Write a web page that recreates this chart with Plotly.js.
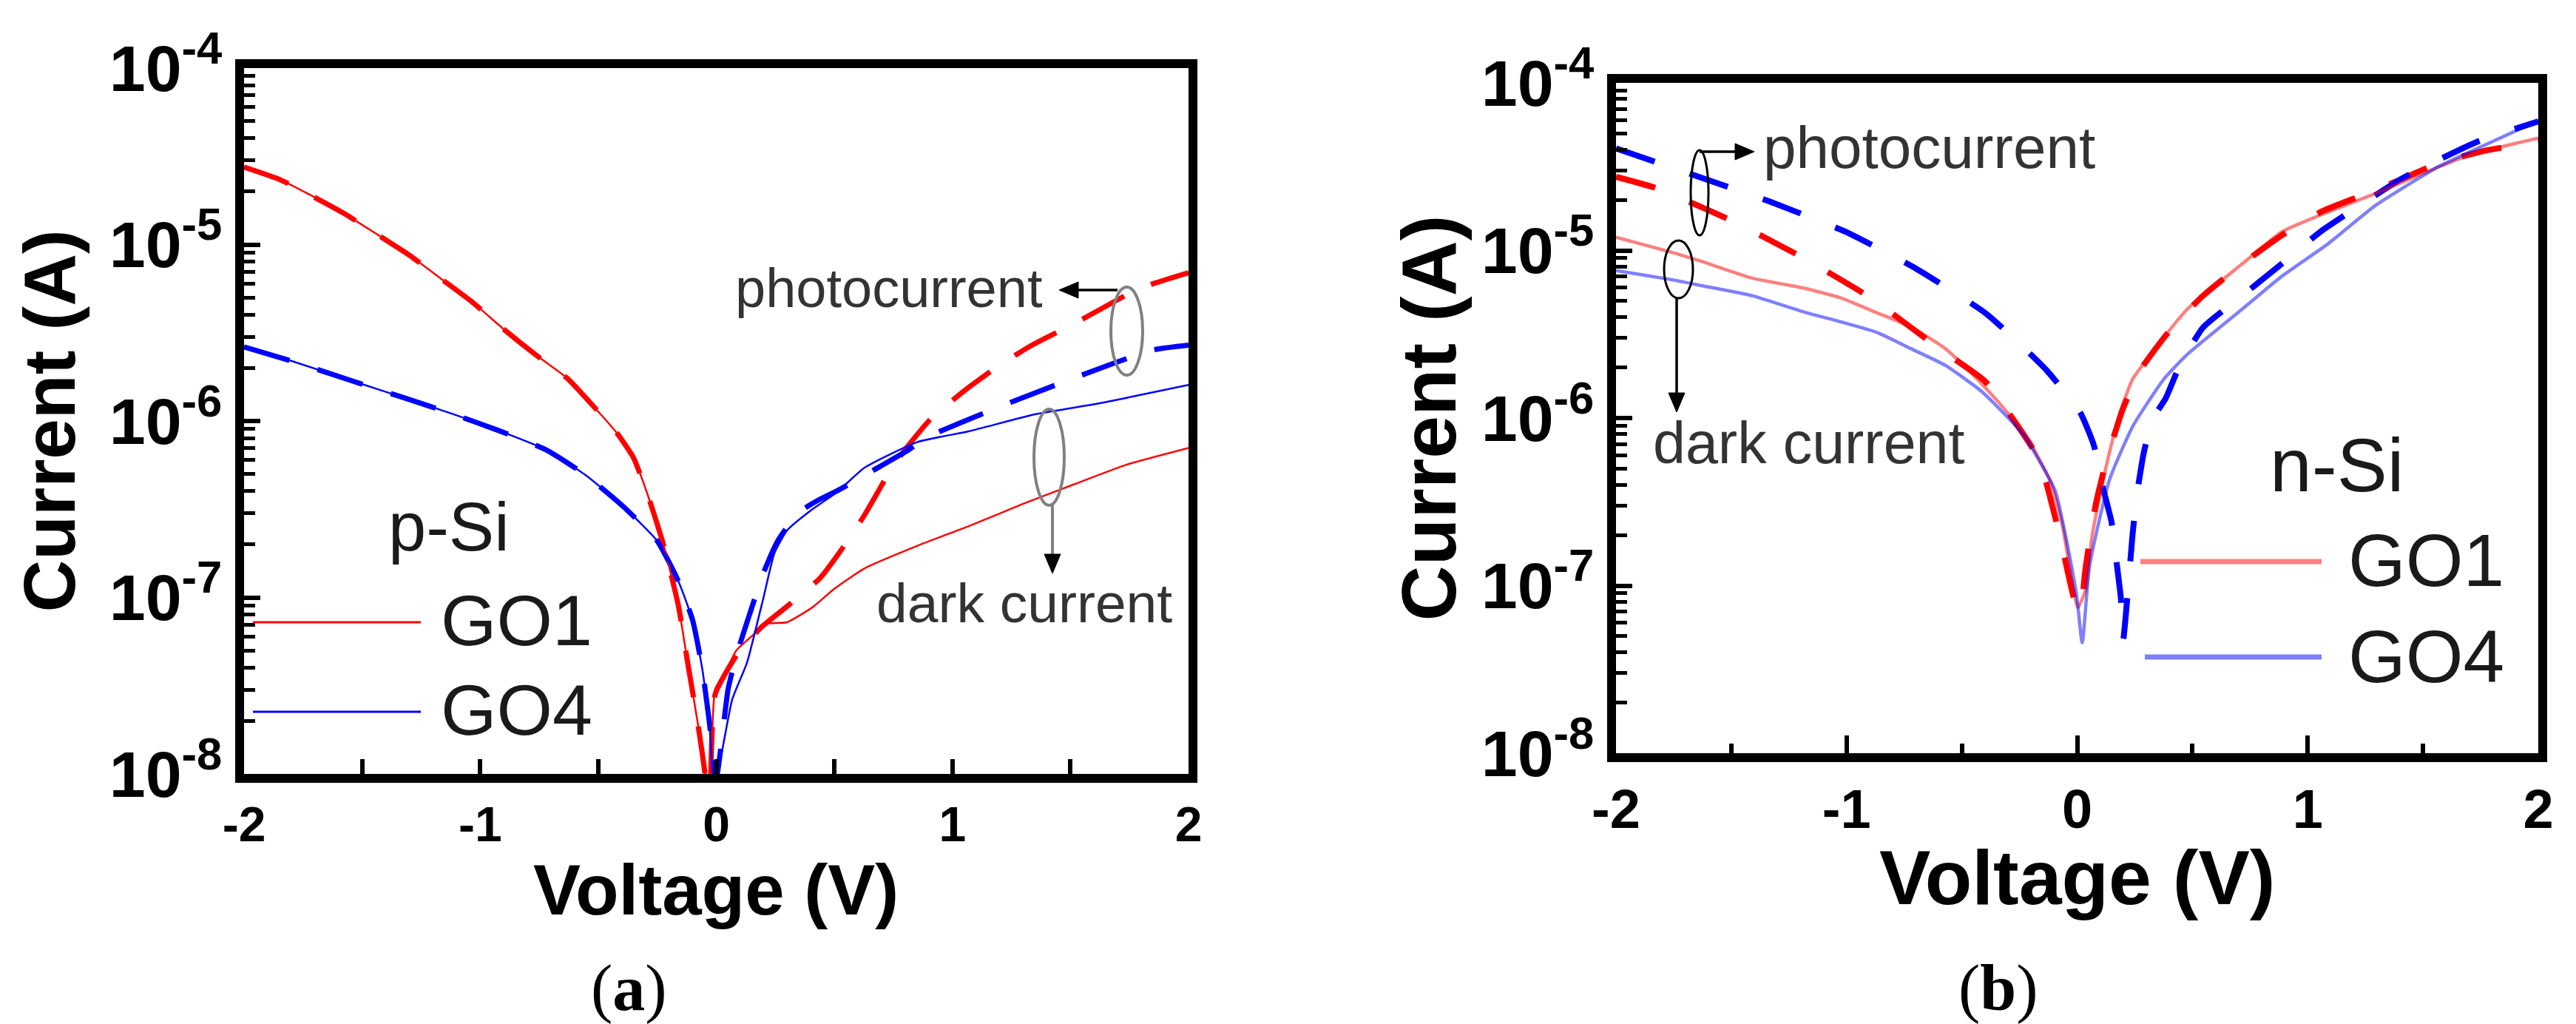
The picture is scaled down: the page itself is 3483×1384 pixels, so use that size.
<!DOCTYPE html>
<html><head><meta charset="utf-8">
<script src="https://cdn.plot.ly/plotly-3.0.1.min.js"></script>
<style>html,body{margin:0;padding:0;background:#fff;}#chart{width:3483px;height:1384px;}</style>
</head><body><div id="chart"></div>
<script>
// ---------- Panel (a): p-Si ----------
const a_go1_dark_V = [-2.0,-1.85,-1.72,-1.58,-1.44,-1.3,-1.17,-1.03,-0.9,-0.77,-0.63,-0.51,-0.42,-0.35,-0.29,-0.22,-0.16,-0.12,-0.08,-0.05,-0.03,-0.005,0.04,0.085,0.15,0.21,0.30,0.407,0.5,0.627,0.85,1.071,1.294,1.514,1.737,2.0];
const a_go1_dark_I = [2.75e-5,2.34e-5,1.91e-5,1.51e-5,1.15e-5,8.71e-6,6.46e-6,4.68e-6,3.31e-6,2.40e-6,1.74e-6,1.17e-6,8.51e-7,6.17e-7,3.80e-7,1.91e-7,8.91e-8,4.17e-8,2.00e-8,1.05e-8,5.0e-9,3.02e-8,3.80e-8,5.01e-8,6.03e-8,7.08e-8,7.24e-8,8.79e-8,1.12e-7,1.46e-7,1.96e-7,2.54e-7,3.37e-7,4.37e-7,5.65e-7,7.03e-7];

const a_go1_photo_V = [-2.0,-1.85,-1.72,-1.58,-1.44,-1.3,-1.17,-1.03,-0.9,-0.77,-0.63,-0.51,-0.42,-0.35,-0.29,-0.22,-0.16,-0.12,-0.08,-0.05,-0.03,-0.005,0.085,0.19,0.3,0.44,0.54,0.627,0.717,0.795,0.906,1.049,1.204,1.337,1.514,1.634,1.789,2.0];
const a_go1_photo_I = [2.75e-5,2.34e-5,1.91e-5,1.51e-5,1.15e-5,8.71e-6,6.46e-6,4.68e-6,3.31e-6,2.40e-6,1.74e-6,1.17e-6,8.51e-7,6.17e-7,3.80e-7,1.91e-7,8.91e-8,4.17e-8,2.00e-8,1.05e-8,5.0e-9,2.82e-8,4.68e-8,6.76e-8,8.91e-8,1.29e-7,1.95e-7,2.92e-7,4.71e-7,6.76e-7,1.02e-6,1.48e-6,2.09e-6,2.69e-6,3.55e-6,4.35e-6,5.62e-6,6.92e-6];

const a_go4_dark_V = [-2.0,-1.8,-1.55,-1.32,-1.12,-0.92,-0.72,-0.55,-0.39,-0.25,-0.16,-0.1,-0.06,-0.03,-0.01,0.02,0.067,0.13,0.2,0.246,0.3,0.407,0.514,0.627,0.85,1.071,1.349,1.625,1.845,2.0];
const a_go4_dark_I = [2.63e-6,2.19e-6,1.70e-6,1.35e-6,1.10e-6,8.81e-7,6.86e-7,4.90e-7,3.24e-7,2.09e-7,1.23e-7,7.41e-8,3.98e-8,2.00e-8,8.91e-9,1.26e-8,2.63e-8,4.27e-8,1.00e-7,1.78e-7,2.40e-7,3.16e-7,3.98e-7,5.43e-7,7.59e-7,8.75e-7,1.09e-6,1.26e-6,1.45e-6,1.60e-6];

const a_go4_photo_V = [-2.0,-1.8,-1.55,-1.32,-1.12,-0.92,-0.72,-0.55,-0.39,-0.25,-0.16,-0.1,-0.06,-0.03,0.0,0.05,0.085,0.157,0.2,0.26,0.347,0.43,0.519,0.661,0.807,0.894,1.204,1.514,1.845,2.0];
const a_go4_photo_I = [2.63e-6,2.19e-6,1.70e-6,1.35e-6,1.10e-6,8.81e-7,6.86e-7,4.90e-7,3.24e-7,2.09e-7,1.23e-7,7.41e-8,3.98e-8,2.00e-8,9.5e-9,3.02e-8,4.68e-8,9.33e-8,1.38e-7,2.09e-7,3.02e-7,3.55e-7,4.07e-7,5.22e-7,6.76e-7,8.11e-7,1.21e-6,1.75e-6,2.52e-6,2.69e-6];

// ---------- Panel (b): n-Si ----------
const b_go1_dark_V = [-2.0,-1.76,-1.63,-1.41,-1.18,-1.025,-0.873,-0.72,-0.571,-0.448,-0.343,-0.283,-0.197,-0.114,-0.063,-0.022,0.003,0.038,0.063,0.105,0.15,0.19,0.24,0.308,0.478,0.716,0.887,1.09,1.295,1.499,1.703,2.0];
const b_go1_dark_I = [1.20e-5,9.77e-6,8.61e-6,6.84e-6,5.94e-6,5.21e-6,4.27e-6,3.49e-6,2.59e-6,1.79e-6,1.25e-6,1.00e-6,6.84e-7,4.14e-7,2.25e-7,1.05e-7,7.41e-8,9.55e-8,1.91e-7,3.80e-7,7.08e-7,1.12e-6,1.70e-6,2.29e-6,4.47e-6,8.32e-6,1.29e-5,1.70e-5,2.19e-5,2.88e-5,3.72e-5,4.68e-5];

const b_go1_photo_V = [-2.0,-1.82,-1.505,-1.2,-0.895,-0.61,-0.40,-0.298,-0.165,-0.073,-0.013,0.013,0.038,0.08,0.124,0.197,0.273,0.412,0.546,0.716,0.887,1.057,1.227,1.397,1.567,1.77,2.0];
const b_go1_photo_I = [2.75e-5,2.34e-5,1.52e-5,9.23e-6,5.21e-6,2.67e-6,1.66e-6,1.08e-6,5.65e-7,1.92e-7,8.32e-8,7.08e-8,1.32e-7,3.02e-7,5.37e-7,1.12e-6,1.92e-6,3.47e-6,5.37e-6,8.32e-6,1.23e-5,1.70e-5,2.11e-5,2.63e-5,3.31e-5,3.94e-5,4.47e-5];

const b_go4_dark_V = [-2.0,-1.76,-1.63,-1.41,-1.18,-1.025,-0.873,-0.72,-0.571,-0.419,-0.333,-0.232,-0.095,-0.048,-0.003,0.022,0.054,0.14,0.241,0.375,0.478,0.716,0.887,1.09,1.295,1.567,1.77,2.0];
const b_go4_dark_I = [7.59e-6,6.70e-6,6.17e-6,5.37e-6,4.27e-6,3.75e-6,3.26e-6,2.59e-6,2.06e-6,1.46e-6,1.12e-6,7.94e-7,3.67e-7,1.92e-7,8.91e-8,4.57e-8,1.32e-7,4.27e-7,8.91e-7,1.70e-6,2.40e-6,4.47e-6,7.00e-6,1.10e-5,1.86e-5,3.16e-5,4.27e-5,5.96e-5];

const b_go4_photo_V = [-2.0,-1.648,-1.33,-1.003,-0.698,-0.394,-0.136,0.013,0.073,0.105,0.149,0.17,0.19,0.2,0.225,0.24,0.26,0.29,0.33,0.384,0.444,0.546,0.716,0.887,1.057,1.227,1.397,1.567,1.738,2.0];
const b_go4_photo_I = [4.07e-5,2.77e-5,1.95e-5,1.29e-5,7.78e-6,4.19e-6,1.95e-6,1.08e-6,6.84e-7,4.17e-7,2.40e-7,1.41e-7,8.32e-8,4.79e-8,1.12e-7,2.00e-7,3.55e-7,6.31e-7,1.00e-6,1.31e-6,2.04e-6,3.47e-6,5.37e-6,8.32e-6,1.30e-5,1.86e-5,2.63e-5,3.47e-5,4.47e-5,5.89e-5];

// ---------- Tick labels and texts ----------
const xTickVals = [-2, -1, 0, 1, 2];
const xTickText = ['-2', '-1', '0', '1', '2'];
const yTickVals = [1e-8, 1e-7, 1e-6, 1e-5, 1e-4];
const yTickText = ['10<sup>-8</sup>', '10<sup>-7</sup>', '10<sup>-6</sup>', '10<sup>-5</sup>', '10<sup>-4</sup>'];
const seriesNames = ['GO1', 'GO4'];
const xTitle = 'Voltage (V)';
const yTitle = 'Current (A)';

// ---------- Layout helpers ----------
const W = 3483, H = 1384;
const FONT = 'Liberation Sans, Arial, Helvetica, sans-serif';
const px = v => v / W;
const py = v => 1 - v / H;
const yMinor = [];
for (let k = -8; k < -4; k++) for (let d = 2; d <= 9; d++) yMinor.push(d * Math.pow(10, k));

function xAxis(domain, anchor, tickSize, majLen, minLen) {
  return {
    domain: domain, anchor: anchor, range: [-2, 2], showgrid: false, zeroline: false,
    showline: true, linewidth: 12, linecolor: '#000', mirror: true,
    ticks: 'inside', ticklen: majLen, tickwidth: 6, tickcolor: '#000',
    tickmode: 'array', tickvals: xTickVals, ticktext: xTickText,
    minor: {tickmode: 'linear', tick0: -1.5, dtick: 1, ticks: 'inside', ticklen: minLen, tickwidth: 6, tickcolor: '#000', showgrid: false},
    tickfont: {family: FONT, size: tickSize, color: '#000', weight: 700}
  };
}
function yAxis(domain, anchor, titleSize, standoff) {
  return {
    domain: domain, anchor: anchor, type: 'log', range: [-8, -4], showgrid: false, zeroline: false,
    showline: true, linewidth: 12, linecolor: '#000', mirror: true,
    ticks: 'inside', ticklen: 22, tickwidth: 6, tickcolor: '#000',
    tickmode: 'array', tickvals: yTickVals, ticktext: yTickText,
    minor: {tickmode: 'array', tickvals: yMinor, ticks: 'inside', ticklen: 15, tickwidth: 5, tickcolor: '#000', showgrid: false},
    tickfont: {family: FONT, size: 88, color: '#000', weight: 700},
    title: {text: yTitle, font: {family: FONT, size: titleSize, color: '#000', weight: 700}, standoff: standoff}
  };
}

const RED = '#ff0000', BLUE = '#0000ff';
const RED_L = 'rgba(255,0,0,0.5)', BLUE_L = 'rgba(0,0,255,0.5)';
function tr(x, y, xa, ya, color, width, dash, name) {
  return {x: x, y: y, xaxis: xa, yaxis: ya, type: 'scatter', mode: 'lines', name: name, showlegend: false,
    line: {color: color, width: width, dash: dash, shape: 'spline', smoothing: 0.5}, hoverinfo: 'skip'};
}

const data = [
  tr(a_go1_photo_V, a_go1_photo_I, 'x', 'y', RED, 7, '64px,40px', seriesNames[0] + ' photocurrent'),
  tr(a_go4_photo_V, a_go4_photo_I, 'x', 'y', BLUE, 7, '64px,40px', seriesNames[1] + ' photocurrent'),
  tr(a_go1_dark_V, a_go1_dark_I, 'x', 'y', RED, 2.5, 'solid', seriesNames[0] + ' dark current'),
  tr(a_go4_dark_V, a_go4_dark_I, 'x', 'y', BLUE, 2.5, 'solid', seriesNames[1] + ' dark current'),
  tr(b_go1_photo_V, b_go1_photo_I, 'x2', 'y2', RED, 8, '55px,50px', seriesNames[0] + ' photocurrent'),
  tr(b_go4_photo_V, b_go4_photo_I, 'x2', 'y2', BLUE, 8, '55px,50px', seriesNames[1] + ' photocurrent'),
  tr(b_go1_dark_V, b_go1_dark_I, 'x2', 'y2', RED_L, 4.5, 'solid', seriesNames[0] + ' dark current'),
  tr(b_go4_dark_V, b_go4_dark_I, 'x2', 'y2', BLUE_L, 4.5, 'solid', seriesNames[1] + ' dark current')
];

function txt(text, x, y, size, color, xanchor, family, weight) {
  return {text: text, xref: 'paper', yref: 'paper', x: px(x), y: py(y), xanchor: xanchor || 'center', yanchor: 'middle',
    showarrow: false, font: {family: family || FONT, size: size, color: color || '#1a1a1a', weight: weight || 400}};
}
function ellipse(x0, x1, y0, y1, color, w) {
  return {type: 'circle', xref: 'paper', yref: 'paper', x0: px(x0), x1: px(x1), y0: py(y1), y1: py(y0),
    line: {color: color, width: w}, fillcolor: 'rgba(0,0,0,0)'};
}
function seg(x0, y0, x1, y1, color, w) {
  return {type: 'line', xref: 'paper', yref: 'paper', x0: px(x0), x1: px(x1), y0: py(y0), y1: py(y1), line: {color: color, width: w}};
}
function head(tipX, tipY, dir, color) {
  // small filled triangle arrowhead, dir: 'left' | 'right' | 'down'
  const L = 26, Hw = 11;
  let p;
  if (dir === 'left') p = [[tipX, tipY], [tipX + L, tipY - Hw], [tipX + L, tipY + Hw]];
  else if (dir === 'right') p = [[tipX, tipY], [tipX - L, tipY - Hw], [tipX - L, tipY + Hw]];
  else p = [[tipX, tipY], [tipX - Hw, tipY - L], [tipX + Hw, tipY - L]];
  const path = 'M' + p.map(q => px(q[0]) + ',' + py(q[1])).join(' L') + ' Z';
  return {type: 'path', xref: 'paper', yref: 'paper', path: path, fillcolor: color, line: {color: color, width: 1}};
}

const layout = {
  width: W, height: H, paper_bgcolor: '#fff', plot_bgcolor: '#fff',
  margin: {l: 0, r: 0, t: 0, b: 0, pad: 0, autoexpand: false},
  showlegend: false,
  xaxis: xAxis([px(330), px(1607)], 'y', 66, 20, 20),
  yaxis: yAxis([py(1046), py(92)], 'x', 98, 18),
  xaxis2: xAxis([px(2185), px(3432)], 'y2', 74, 24, 13),
  yaxis2: yAxis([py(1018), py(112)], 'x2', 104, 4),
  shapes: [
    // panel (a) markers
    ellipse(1502, 1545, 388, 507, '#808080', 4),
    ellipse(1398, 1439, 553, 683, '#808080', 4),
    seg(1511, 392, 1450, 392, '#000', 3.5),
    head(1432, 392, 'left', '#000'),
    seg(1423, 683, 1423, 752, '#808080', 4),
    head(1423, 775, 'down', '#000'),
    seg(342, 841, 569, 841, RED, 3),
    seg(342, 962, 569, 962, BLUE, 3),
    // panel (b) markers
    ellipse(2286, 2310, 203, 318, '#000', 3),
    ellipse(2250, 2289, 325, 403, '#000', 3),
    seg(2298, 205, 2352, 205, '#000', 3.5),
    head(2372, 205, 'right', '#000'),
    seg(2267, 403, 2267, 535, '#000', 3.5),
    head(2267, 557, 'down', '#000'),
    seg(2894, 759, 3139, 759, RED_L, 7),
    seg(2900, 888, 3139, 888, BLUE_L, 7)
  ],
  annotations: [
    txt(xTitle, 968, 1202, 96, '#000', 'center', FONT, 700),
    txt(xTitle, 2808, 1186, 104, '#000', 'center', FONT, 700),
    txt('photocurrent', 1202, 390, 74, '#333'),
    txt('dark current', 1385, 815, 75, '#333'),
    txt('p-Si', 523, 712, 92, '#1a1a1a', 'left'),
    txt(seriesNames[0], 594, 838, 97, '#1a1a1a', 'left'),
    txt(seriesNames[1], 594, 959, 97, '#1a1a1a', 'left'),
    txt('photocurrent', 2608, 199, 80, '#333'),
    txt('dark current', 2446, 598, 79, '#333'),
    txt('n-Si', 3067, 629, 102, '#1a1a1a', 'left'),
    txt(seriesNames[0], 3173, 757, 100, '#1a1a1a', 'left'),
    txt(seriesNames[1], 3173, 887, 100, '#1a1a1a', 'left'),
    txt('(<b>a</b>)', 850, 1335, 88, '#000', 'center', 'Liberation Serif, Times New Roman, serif'),
    txt('(<b>b</b>)', 2702, 1335, 88, '#000', 'center', 'Liberation Serif, Times New Roman, serif')
  ]
};

Plotly.newPlot('chart', data, layout, {staticPlot: true, displayModeBar: false});
</script></body></html>
